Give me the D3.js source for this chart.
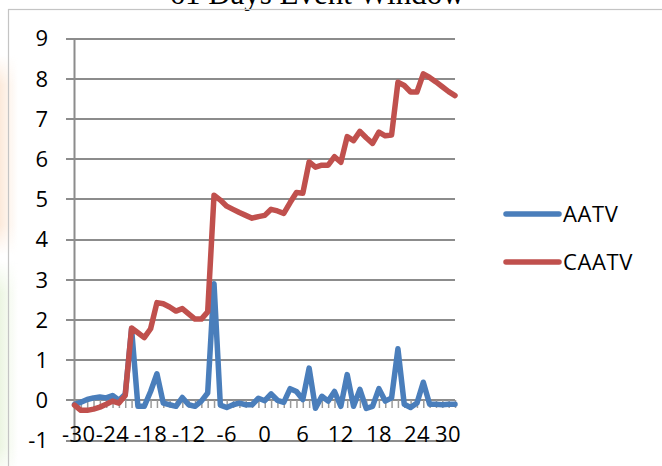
<!DOCTYPE html>
<html>
<head>
<meta charset="utf-8">
<script src="https://cdn.jsdelivr.net/npm/d3@7"></script>
<style>
  html, body { margin: 0; padding: 0; background: #ffffff; }
  svg { display: block; }
  text { font-family: "Open Sans", "Noto Sans", sans-serif; fill: #000; }
</style>
</head>
<body>
<svg id="chart" width="662" height="466"></svg>
<script>
// Event-window days, -30 .. 30
const days = d3.range(-30, 31);

// Abnormal trading volume per day
const aatv = [
  -0.10, -0.05, 0.02, 0.06, 0.08, 0.06, 0.12, 0.00, 0.15, 1.78,
  -0.15, -0.15, 0.22, 0.66, -0.07, -0.11, -0.15, 0.07, -0.11, -0.15,
  -0.02, 0.18, 2.90, -0.12, -0.18, -0.11, -0.07, -0.11, -0.11, 0.05,
  -0.01, 0.16, 0.00, -0.05, 0.29, 0.22, 0.02, 0.80, -0.20, 0.10,
  -0.02, 0.22, -0.15, 0.64, -0.15, 0.27, -0.20, -0.15, 0.29, -0.02,
  0.06, 1.28, -0.10, -0.18, -0.07, 0.45, -0.10, -0.10, -0.11, -0.10,
  -0.10
];

// Cumulative abnormal trading volume per day
const caatv = [
  -0.12, -0.25, -0.25, -0.22, -0.17, -0.10, -0.02, -0.07, 0.12, 1.80,
  1.68, 1.56, 1.78, 2.43, 2.40, 2.32, 2.22, 2.28, 2.15, 2.02,
  2.02, 2.20, 5.10, 4.98, 4.83, 4.75, 4.67, 4.60, 4.53, 4.57,
  4.60, 4.75, 4.71, 4.65, 4.92, 5.17, 5.15, 5.93, 5.80, 5.85,
  5.85, 6.06, 5.92, 6.56, 6.46, 6.69, 6.53, 6.39, 6.67, 6.58,
  6.60, 7.91, 7.83, 7.67, 7.67, 8.12, 8.03, 7.92, 7.80, 7.68,
  7.58
];

const yTicks = [-1, 0, 1, 2, 3, 4, 5, 6, 7, 8, 9];
const xLabelDays = [-30, -24, -18, -12, -6, 0, 6, 12, 18, 24, 30];
const seriesNames = ["AATV", "CAATV"];
const seriesColors = ["#4a7ebb", "#c0504d"];
const titleText = "61 Days Event Window";

const svg = d3.select("#chart");

// soft tint along the left edge of the page
const defs = svg.append("defs");
function tint(id, color) {
  const g = defs.append("linearGradient").attr("id", id).attr("x1", 0).attr("x2", 1);
  g.append("stop").attr("offset", 0).attr("stop-color", color).attr("stop-opacity", 0.7);
  g.append("stop").attr("offset", 1).attr("stop-color", color).attr("stop-opacity", 0);
  const v = defs.append("linearGradient").attr("id", id + "v").attr("x1", 0).attr("x2", 0).attr("y1", 0).attr("y2", 1);
  v.append("stop").attr("offset", 0).attr("stop-color", "#fff").attr("stop-opacity", 0);
  v.append("stop").attr("offset", 0.15).attr("stop-color", "#fff").attr("stop-opacity", 1);
  v.append("stop").attr("offset", 0.85).attr("stop-color", "#fff").attr("stop-opacity", 1);
  v.append("stop").attr("offset", 1).attr("stop-color", "#fff").attr("stop-opacity", 0);
}
tint("peach", "#fbe1cc");
tint("green", "#e4f1d6");
const maskP = defs.append("mask").attr("id", "fadeP");
maskP.append("rect").attr("x", 0).attr("y", 55).attr("width", 18).attr("height", 200).attr("fill", "url(#peachv)");
const maskG = defs.append("mask").attr("id", "fadeG");
maskG.append("rect").attr("x", 0).attr("y", 260).attr("width", 18).attr("height", 220).attr("fill", "url(#greenv)");
svg.append("rect").attr("x", 0).attr("y", 55).attr("width", 18).attr("height", 200)
  .attr("fill", "url(#peach)").attr("mask", "url(#fadeP)");
svg.append("rect").attr("x", 0).attr("y", 260).attr("width", 18).attr("height", 220)
  .attr("fill", "url(#green)").attr("mask", "url(#fadeG)");

// title (sits above the chart frame)
svg.append("text")
  .attr("x", 317).attr("y", 4)
  .attr("text-anchor", "middle")
  .style("font-family", "'Liberation Serif', 'Times New Roman', serif")
  .style("font-size", "31px")
  .text(titleText);

// chart frame
svg.append("rect")
  .attr("x", 8.5).attr("y", 9.5)
  .attr("width", 700).attr("height", 500)
  .attr("fill", "none")
  .attr("stroke", "#c4c4c4")
  .attr("stroke-width", 1.2);

const x = d3.scalePoint().domain(days).range([74.5, 455]);
const y = d3.scaleLinear().domain([-1, 9]).range([440.5, 38.5]);

const plotLeft = 74.5, plotRight = 455;

// horizontal gridlines, starting at the outside tick marks
const grid = svg.append("g");
grid.selectAll("line")
  .data(yTicks).join("line")
  .attr("x1", 66).attr("x2", plotRight)
  .attr("y1", d => Math.round(y(d))).attr("y2", d => Math.round(y(d)))
  .attr("stroke", "#8c8c8c").attr("stroke-width", 2);

// vertical axis line
svg.append("line")
  .attr("x1", plotLeft).attr("x2", plotLeft)
  .attr("y1", Math.round(y(9))).attr("y2", Math.round(y(-1)))
  .attr("stroke", "#8c8c8c").attr("stroke-width", 2);

// y tick labels
svg.append("g").selectAll("text")
  .data(yTicks).join("text")
  .attr("x", 48)
  .attr("y", d => y(d))
  .attr("dy", "0.36em")
  .attr("text-anchor", "end")
  .style("font-size", "22px")
  .text(d => d);

// category tick marks along the zero line
const xAxis = svg.append("g")
  .attr("transform", `translate(0,${Math.round(y(0))})`)
  .call(d3.axisBottom(x).tickSize(8).tickFormat(""));
xAxis.select(".domain").remove();
xAxis.selectAll(".tick line").attr("stroke", "#9a9a9a").attr("stroke-width", 1.5);

// category labels every sixth day, kept inside the plot span
const xl = svg.append("g").selectAll("text")
  .data(xLabelDays).join("text")
  .attr("x", d => x(d))
  .attr("y", 442)
  .attr("text-anchor", "middle")
  .style("font-size", "22px")
  .style("letter-spacing", "0.4px")
  .text(d => d);
xl.each(function(d) {
  const w = this.getComputedTextLength();
  let cx = x(d);
  if (cx + w / 2 > 461) cx = 461 - w / 2;
  if (cx - w / 2 < 62) cx = 62 + w / 2;
  d3.select(this).attr("x", cx);
});

// series lines
const line = d3.line().x((d, i) => x(days[i])).y(d => y(d));
[aatv, caatv].forEach((vals, k) => {
  svg.append("path")
    .datum(vals)
    .attr("d", line)
    .attr("fill", "none")
    .attr("stroke", seriesColors[k])
    .attr("stroke-width", 5.5)
    .attr("stroke-linejoin", "round")
    .attr("stroke-linecap", "round");
});

// legend
const legend = svg.append("g");
seriesNames.forEach((name, k) => {
  const ly = 214 + k * 48;
  legend.append("line")
    .attr("x1", 506).attr("x2", 559)
    .attr("y1", ly).attr("y2", ly)
    .attr("stroke", seriesColors[k])
    .attr("stroke-width", 5.5)
    .attr("stroke-linecap", "round");
  legend.append("text")
    .attr("x", 563).attr("y", ly)
    .attr("dy", "0.36em")
    .style("font-size", "22px")
    .style("letter-spacing", "0.6px")
    .text(name);
});
</script>
</body>
</html>
